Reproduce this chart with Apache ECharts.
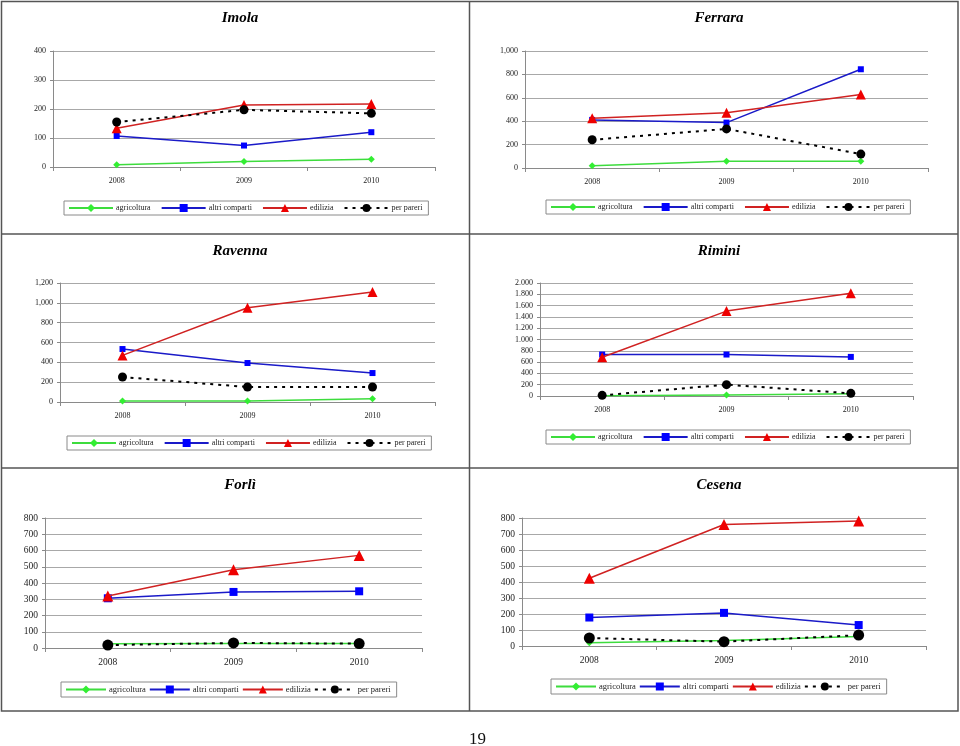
<!DOCTYPE html>
<html><head><meta charset="utf-8">
<script src="https://cdn.jsdelivr.net/npm/echarts@6/dist/echarts.min.js"></script>
<style>html,body{margin:0;padding:0;background:#fff}#c{width:960px;height:746px}</style>
</head><body><div id="c"></div>
<script>
// ---------- data ----------
const years = ['2008', '2009', '2010'];
const seriesNames = ['agricoltura', 'altri comparti', 'edilizia', 'per pareri'];
const panelTitles = ['Imola', 'Ferrara', 'Ravenna', 'Rimini', 'Forlì', 'Cesena'];
const pageNumber = '19';

const imolaAgricoltura   = [8, 19, 27];
const imolaAltri         = [107, 74, 120];
const imolaEdilizia      = [134, 214, 217];
const imolaPareri        = [155, 197, 185];

const ferraraAgricoltura = [20, 57, 57];
const ferraraAltri       = [411, 388, 844];
const ferraraEdilizia    = [425, 473, 629];
const ferraraPareri      = [241, 334, 119];

const ravennaAgricoltura = [10, 10, 34];
const ravennaAltri       = [534, 393, 292];
const ravennaEdilizia    = [470, 951, 1109];
const ravennaPareri      = [252, 151, 151];

const riminiAgricoltura  = [5, 18, 40];
const riminiAltri        = [734, 734, 692];
const riminiEdilizia     = [686, 1503, 1817];
const riminiPareri       = [12, 201, 47];

const forliAgricoltura   = [26, 27, 27];
const forliAltri         = [306, 345, 349];
const forliEdilizia      = [320, 482, 570];
const forliPareri        = [18, 31, 27];

const cesenaAgricoltura  = [21, 35, 60];
const cesenaAltri        = [178, 207, 131];
const cesenaEdilizia     = [423, 759, 781];
const cesenaPareri       = [50, 27, 68];

// y-axis ticks per panel
const yMax      = [400, 1000, 1200, 2000, 800, 800];
const yInterval = [100, 200, 200, 200, 100, 100];
const thousandsSep = [',', ',', ',', '.', '.', '.'];

const panelData = [
  [imolaAgricoltura, imolaAltri, imolaEdilizia, imolaPareri],
  [ferraraAgricoltura, ferraraAltri, ferraraEdilizia, ferraraPareri],
  [ravennaAgricoltura, ravennaAltri, ravennaEdilizia, ravennaPareri],
  [riminiAgricoltura, riminiAltri, riminiEdilizia, riminiPareri],
  [forliAgricoltura, forliAltri, forliEdilizia, forliPareri],
  [cesenaAgricoltura, cesenaAltri, cesenaEdilizia, cesenaPareri]
];

// ---------- layout / style ----------
const layout = [
  {grid: {left: 53,  top: 51,  width: 382, height: 116}, title: [235, 6],   legend: [64, 201],  big: false},
  {grid: {left: 525, top: 51,  width: 403, height: 117}, title: [714, 6],   legend: [546, 200], big: false},
  {grid: {left: 60,  top: 283, width: 375, height: 119}, title: [235, 239], legend: [67, 436],  big: false},
  {grid: {left: 540, top: 283, width: 373, height: 113}, title: [714, 239], legend: [546, 430], big: false},
  {grid: {left: 45,  top: 518, width: 377, height: 130}, title: [235, 473], legend: [61, 682],  big: true},
  {grid: {left: 522, top: 518, width: 404, height: 128}, title: [714, 473], legend: [551, 679], big: true}
];
const FONT = '"Liberation Serif", "Times New Roman", serif';
const lineColors = ['#3ddc3d', '#1a1ac8', '#d02222', '#000000'];
const markColors = ['#33ee33', '#0000ff', '#ee0000', '#000000'];
const symbols = ['diamond', 'rect', 'triangle', 'circle'];
const symSmall = [7, 6, 10, 9];
const symBig = [7, 8, 11, 11];

function fmt(v, sep) {
  return String(v).replace(/\B(?=(\d{3})+(?!\d))/g, sep);
}

const grids = [], xAxes = [], yAxes = [], series = [], titles = [], legends = [];
layout.forEach((L, p) => {
  grids.push(L.grid);
  const fs = L.big ? 9.5 : 8;
  xAxes.push({
    type: 'category', gridIndex: p, data: years, boundaryGap: true,
    axisLine: {lineStyle: {color: '#8a8a8a', width: 1}},
    axisTick: {show: true, length: 4, lineStyle: {color: '#8a8a8a'}},
    axisLabel: {color: '#222', fontFamily: FONT, fontSize: fs, margin: L.big ? 9 : 10},
    splitLine: {show: false}
  });
  yAxes.push({
    type: 'value', gridIndex: p, min: 0, max: yMax[p], interval: yInterval[p],
    axisLine: {show: true, lineStyle: {color: '#8a8a8a', width: 1}},
    axisTick: {show: true, length: 3, lineStyle: {color: '#8a8a8a'}},
    axisLabel: {color: '#222', fontFamily: FONT, fontSize: fs, margin: 7,
      formatter: v => fmt(v, thousandsSep[p])},
    splitLine: {show: true, lineStyle: {color: '#a8a8a8', width: 1}}
  });
  panelData[p].forEach((vals, s) => {
    series.push({
      type: 'line', name: seriesNames[s], xAxisIndex: p, yAxisIndex: p,
      data: vals, symbol: symbols[s],
      symbolSize: (L.big ? symBig : symSmall)[s],
      showSymbol: true, animation: false,
      lineStyle: {color: lineColors[s], width: s === 3 ? 2 : 1.5,
        type: s === 3 ? [3, 5] : 'solid'},
      itemStyle: {color: markColors[s], borderWidth: 0},
      z: 2 + s
    });
  });
  titles.push({
    text: panelTitles[p], left: L.title[0], top: L.title[1], textAlign: 'center',
    textStyle: {fontFamily: FONT, fontSize: 15, fontWeight: 'bold', fontStyle: 'italic', color: '#000'}
  });
  legends.push({
    data: seriesNames, left: L.legend[0], top: L.legend[1],
    orient: 'horizontal', itemWidth: L.big ? 40 : 44, itemHeight: 10, itemGap: L.big ? 3 : 10,
    padding: [3, 6, 3, 4], borderColor: '#8a8a8a', borderWidth: 1,
    selectedMode: false,
    textStyle: {fontFamily: FONT, fontSize: L.big ? 8.5 : 8, color: '#222', padding: [0, 0, 0, -2]}
  });
});

const chart = echarts.init(document.getElementById('c'), null, {renderer: 'canvas'});
chart.setOption({
  backgroundColor: '#fff',
  animation: false,
  title: titles,
  legend: legends,
  grid: grids,
  xAxis: xAxes,
  yAxis: yAxes,
  series: series,
  graphic: [
    {type: 'rect', shape: {x: 1.5, y: 1.5, width: 956.5, height: 709.5}, style: {fill: 'none', stroke: '#555', lineWidth: 1.5}, silent: true},
    {type: 'line', shape: {x1: 469.5, y1: 1, x2: 469.5, y2: 711}, style: {stroke: '#555', lineWidth: 1.5}, silent: true},
    {type: 'line', shape: {x1: 1, y1: 234, x2: 958, y2: 234}, style: {stroke: '#555', lineWidth: 1.5}, silent: true},
    {type: 'line', shape: {x1: 1, y1: 468, x2: 958, y2: 468}, style: {stroke: '#555', lineWidth: 1.5}, silent: true},
    {type: 'text', left: 469, top: 731, style: {text: pageNumber, fontFamily: FONT, fontSize: 17, fill: '#111'}, silent: true}
  ]
});
</script></body></html>
